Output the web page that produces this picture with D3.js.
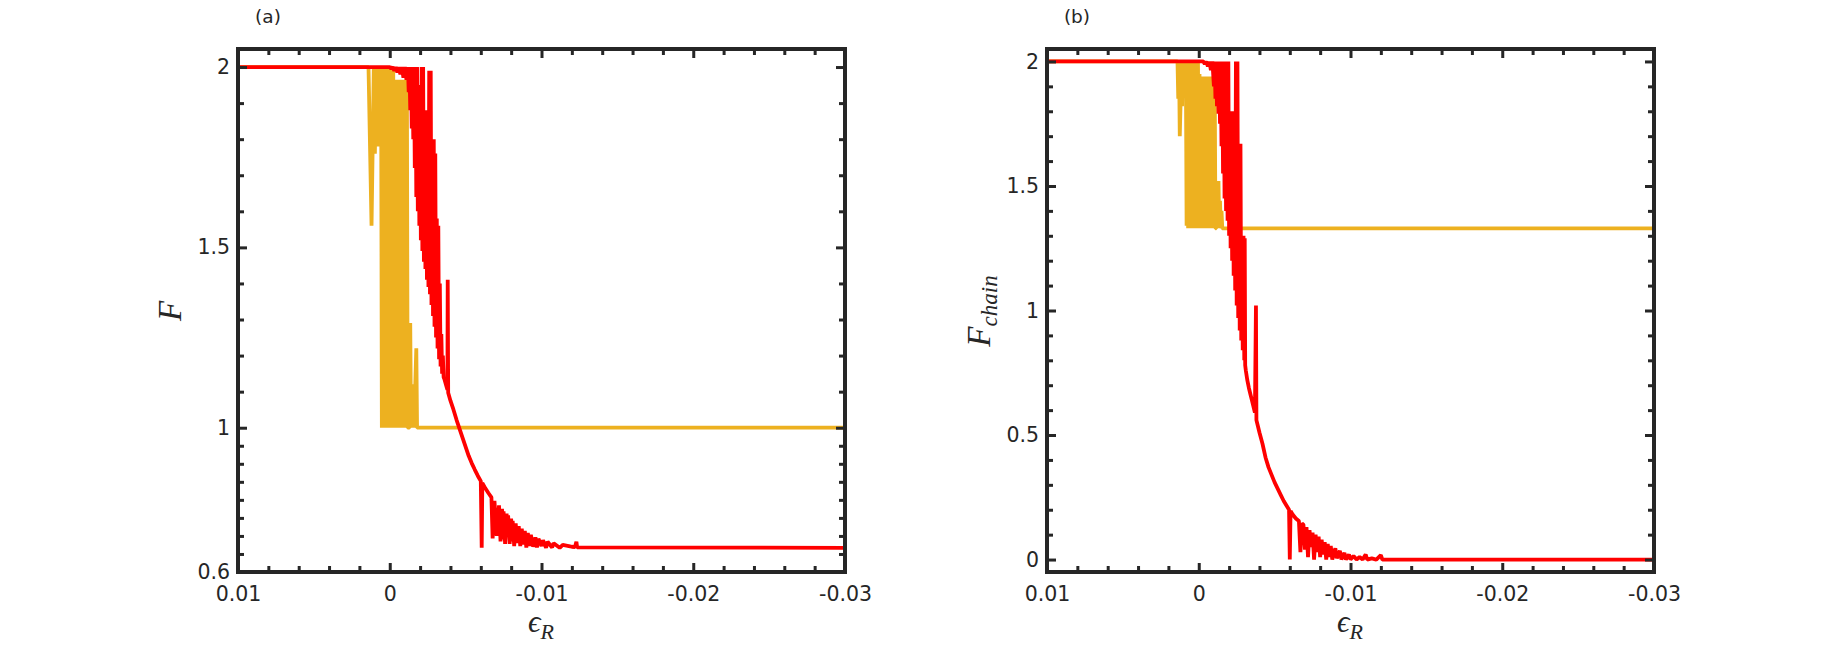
<!DOCTYPE html>
<html>
<head>
<meta charset="utf-8">
<script src="https://cdn.jsdelivr.net/npm/d3@7"></script>
<style>
  body { margin: 0; background: #fff; }
  svg text { fill: #262626; }
</style>
</head>
<body>
<div id="chart"></div>
<script>
// x ticks shared by both panels
const xMajor = [0.01, 0, -0.01, -0.02, -0.03];
const xMajorLabels = ["0.01", "0", "-0.01", "-0.02", "-0.03"];
const xMinor = [0.008, 0.006, 0.004, 0.002, -0.002, -0.004, -0.006, -0.008,
  -0.012, -0.014, -0.016, -0.018, -0.022, -0.024, -0.026, -0.028];

// panel (a) ticks
const yMajorA = [0.6, 1, 1.5, 2];
const yMajorLabelsA = ["0.6", "1", "1.5", "2"];
const yMinorA = [0.65, 0.7, 0.75, 0.8, 0.85, 0.9, 0.95, 1.1, 1.2, 1.3, 1.4, 1.6, 1.7, 1.8, 1.9];

// panel (b) ticks
const yMajorB = [0, 0.5, 1, 1.5, 2];
const yMajorLabelsB = ["0", "0.5", "1", "1.5", "2"];
const yMinorB = [0.1, 0.2, 0.3, 0.4, 0.6, 0.7, 0.8, 0.9, 1.1, 1.2, 1.3, 1.4, 1.6, 1.7, 1.8, 1.9];

// panel (a), yellow series [eps_R, F]
const yellowA = [
  [0.01, 2], [0.0014, 2], [0.0012, 1.56], [0.00105, 2], [0.00098, 1.76], [0.0009, 2],
  [0.0008, 1.78], [0.0007, 2], [0.00062, 1.915], [0.00057, 2], [0.00052, 1.0], [0.00047, 2],
  [0.00042, 1.0], [0.00037, 2], [0.00032, 1.0], [0.00027, 2], [0.00022, 1.0], [0.00017, 2],
  [0.00012, 1.0], [0.00007, 2], [0.00002, 1.0], [-0.00003, 2], [-0.00008, 1.0], [-0.00013, 2],
  [-0.00018, 1.0], [-0.00023, 1.99], [-0.00028, 1.0], [-0.00033, 1.91], [-0.00038, 1.0],
  [-0.00043, 1.965], [-0.00048, 1.0], [-0.00053, 1.965], [-0.00058, 1.0], [-0.00063, 1.965],
  [-0.00068, 1.0], [-0.00073, 1.965], [-0.00078, 1.0], [-0.00083, 1.965], [-0.00088, 1.0],
  [-0.00093, 1.965], [-0.00098, 1.0], [-0.00103, 1.965], [-0.00108, 1.0], [-0.00113, 1.965],
  [-0.00118, 1.0], [-0.0013, 1.0], [-0.00135, 1.29], [-0.0014, 1.0], [-0.0015, 1.12],
  [-0.0016, 1.0], [-0.00175, 1.22], [-0.0018, 1.0], [-0.0019, 1.0], [-0.03, 1.0]
];

// panel (a), red series
const redA = [
  [0.01, 2], [0, 2], [-0.0001, 1.995], [-0.0002, 2], [-0.0003, 1.99], [-0.0004, 2],
  [-0.0005, 1.985], [-0.0006, 2], [-0.0007, 1.98], [-0.0008, 2], [-0.0009, 1.97], [-0.001, 2],
  [-0.0011, 1.965], [-0.0012, 2], [-0.00125, 1.93], [-0.0013, 2], [-0.00135, 1.88], [-0.0014, 2],
  [-0.00145, 1.83], [-0.0015, 2], [-0.00155, 1.8], [-0.0016, 2], [-0.00165, 1.72], [-0.0017, 2],
  [-0.00175, 1.64], [-0.0018, 2], [-0.00185, 1.6], [-0.0019, 1.95], [-0.00195, 1.56], [-0.002, 1.9],
  [-0.00205, 1.52], [-0.0021, 2], [-0.00215, 1.49], [-0.0022, 2], [-0.00225, 1.46], [-0.0023, 1.88],
  [-0.00235, 1.44], [-0.0024, 1.88], [-0.00245, 1.41], [-0.0025, 1.86], [-0.00255, 1.39],
  [-0.0026, 1.99], [-0.00265, 1.37], [-0.0027, 1.99], [-0.00275, 1.34], [-0.0028, 1.8],
  [-0.00285, 1.31], [-0.0029, 1.8], [-0.00295, 1.28], [-0.003, 1.76], [-0.00305, 1.25],
  [-0.0031, 1.58], [-0.00315, 1.22], [-0.0032, 1.56], [-0.00325, 1.19], [-0.0033, 1.4],
  [-0.00335, 1.17], [-0.0034, 1.26], [-0.00345, 1.15], [-0.0035, 1.2], [-0.00355, 1.14],
  [-0.0036, 1.135], [-0.0037, 1.12], [-0.0038, 1.105], [-0.00382, 1.41], [-0.00385, 1.097],
  [-0.004, 1.075], [-0.0042, 1.05], [-0.0044, 1.022], [-0.0046, 0.997], [-0.0048, 0.972],
  [-0.005, 0.947], [-0.0052, 0.922], [-0.0054, 0.902], [-0.0056, 0.884], [-0.0058, 0.867],
  [-0.006, 0.852], [-0.00606, 0.667], [-0.0061, 0.847], [-0.0063, 0.832], [-0.0065, 0.819],
  [-0.0067, 0.807], [-0.00678, 0.693], [-0.0069, 0.797], [-0.00705, 0.7], [-0.0072, 0.785],
  [-0.0073, 0.685], [-0.0074, 0.775], [-0.00745, 0.69], [-0.0075, 0.768], [-0.0076, 0.678],
  [-0.0077, 0.762], [-0.00775, 0.7], [-0.0078, 0.757], [-0.0079, 0.678], [-0.008, 0.748],
  [-0.00805, 0.685], [-0.0081, 0.742], [-0.0082, 0.672], [-0.0083, 0.735], [-0.0084, 0.68],
  [-0.0085, 0.727], [-0.0086, 0.672], [-0.0087, 0.72], [-0.0088, 0.676], [-0.0089, 0.714],
  [-0.009, 0.668], [-0.0091, 0.708], [-0.0092, 0.672], [-0.0093, 0.703], [-0.00945, 0.67],
  [-0.0096, 0.696], [-0.0097, 0.668], [-0.0098, 0.692], [-0.01, 0.672], [-0.0101, 0.688],
  [-0.0103, 0.667], [-0.0104, 0.684], [-0.0107, 0.668], [-0.0108, 0.68], [-0.0112, 0.667],
  [-0.0114, 0.675], [-0.0118, 0.672], [-0.012, 0.67], [-0.0122, 0.669], [-0.0123, 0.684],
  [-0.01235, 0.668], [-0.03, 0.667]
];

// panel (b), yellow series [eps_R, F_chain]
const yellowB = [
  [0.01, 2], [0.0014, 2], [0.00135, 1.85], [0.0013, 2], [0.00125, 1.7], [0.0012, 1.83],
  [0.00115, 2], [0.0011, 1.82], [0.00105, 2], [0.001, 1.87], [0.00095, 2], [0.0009, 1.86],
  [0.00085, 2], [0.0008, 1.34], [0.00075, 2], [0.0007, 1.33], [0.00065, 2], [0.0006, 1.33],
  [0.00055, 2], [0.0005, 1.33], [0.00045, 2], [0.0004, 1.34], [0.00035, 2], [0.0003, 1.33],
  [0.00025, 2], [0.0002, 1.33], [0.00015, 2], [0.0001, 1.34], [0.00005, 2], [0, 1.33],
  [-0.00005, 1.95], [-0.0001, 1.33], [-0.00015, 1.94], [-0.0002, 1.34], [-0.00025, 1.94],
  [-0.0003, 1.33], [-0.00035, 1.94], [-0.0004, 1.33], [-0.00045, 1.94], [-0.0005, 1.34],
  [-0.00055, 1.94], [-0.0006, 1.33], [-0.00065, 1.94], [-0.0007, 1.33], [-0.00075, 1.94],
  [-0.0008, 1.34], [-0.00085, 1.94], [-0.0009, 1.33], [-0.00095, 1.94], [-0.001, 1.33],
  [-0.00105, 1.94], [-0.0011, 1.33], [-0.00115, 1.33], [-0.0012, 1.52], [-0.00125, 1.33],
  [-0.0013, 1.52], [-0.00135, 1.33], [-0.0014, 1.44], [-0.00145, 1.33], [-0.0015, 1.4],
  [-0.00155, 1.33], [-0.03, 1.33]
];

// panel (b), red series
const redB = [
  [0.01, 2], [-0.0003, 2], [-0.0004, 1.99], [-0.0005, 2], [-0.0006, 1.98], [-0.0007, 2],
  [-0.0008, 1.965], [-0.0009, 2], [-0.001, 1.9], [-0.00105, 2], [-0.0011, 1.85], [-0.00115, 2],
  [-0.0012, 1.82], [-0.00125, 2], [-0.0013, 1.79], [-0.00135, 2], [-0.0014, 1.75], [-0.00145, 2],
  [-0.0015, 1.66], [-0.00155, 2], [-0.0016, 1.55], [-0.00165, 2], [-0.0017, 1.45], [-0.00175, 1.84],
  [-0.0018, 1.4], [-0.00185, 2], [-0.0019, 1.36], [-0.00195, 2], [-0.002, 1.3], [-0.00205, 1.8],
  [-0.0021, 1.25], [-0.00215, 1.8], [-0.0022, 1.2], [-0.00225, 1.8], [-0.0023, 1.14],
  [-0.00235, 1.8], [-0.0024, 1.08], [-0.00245, 2], [-0.0025, 1.02], [-0.00255, 2], [-0.0026, 0.97],
  [-0.00265, 1.67], [-0.0027, 0.92], [-0.00275, 1.67], [-0.0028, 0.88], [-0.00285, 1.3],
  [-0.0029, 0.84], [-0.00295, 1.3], [-0.003, 0.8], [-0.00303, 1.29], [-0.00306, 0.78],
  [-0.0031, 0.76], [-0.0032, 0.72], [-0.0033, 0.69], [-0.0034, 0.665], [-0.0035, 0.64],
  [-0.0036, 0.615], [-0.0037, 0.59], [-0.00377, 1.02], [-0.0038, 0.56], [-0.0039, 0.535],
  [-0.004, 0.51], [-0.0042, 0.465], [-0.0044, 0.41], [-0.0046, 0.37], [-0.0048, 0.34],
  [-0.005, 0.31], [-0.0052, 0.285], [-0.0054, 0.26], [-0.0056, 0.235], [-0.0058, 0.215],
  [-0.00595, 0.2], [-0.006, 0.0], [-0.00605, 0.195], [-0.0062, 0.18], [-0.0064, 0.165],
  [-0.0066, 0.155], [-0.0067, 0.03], [-0.0068, 0.145], [-0.0069, 0.14], [-0.007, 0.04],
  [-0.0071, 0.13], [-0.0072, 0.01], [-0.0073, 0.118], [-0.0074, 0.05], [-0.0075, 0.108],
  [-0.0076, 0.0], [-0.0077, 0.1], [-0.0078, 0.03], [-0.0079, 0.092], [-0.008, 0.01],
  [-0.0081, 0.08], [-0.0082, 0.02], [-0.0083, 0.07], [-0.0084, 0.0], [-0.0085, 0.063],
  [-0.0086, 0.01], [-0.0087, 0.055], [-0.0088, 0.0], [-0.009, 0.045], [-0.0091, 0.005],
  [-0.0093, 0.035], [-0.0094, 0.0], [-0.0096, 0.027], [-0.0097, 0.0], [-0.0099, 0.02],
  [-0.01, 0.0], [-0.0102, 0.014], [-0.0104, 0.0], [-0.0106, 0.01], [-0.0108, 0.0],
  [-0.011, 0.02], [-0.0111, 0.0], [-0.0114, 0.005], [-0.0117, 0.0], [-0.012, 0.018],
  [-0.0121, 0.0], [-0.03, 0.0]
];

const width = 1836, height = 654;
const axisColor = "#262626";
const yellow = "#EDB120", red = "#FF0000";

const svg = d3.select("#chart").append("svg")
  .attr("width", width)
  .attr("height", height);

function drawPanel(opt) {
  const x = d3.scaleLinear().domain([0.01, -0.03]).range([opt.left, opt.left + 607]);
  const y = d3.scaleLinear().domain(opt.yDomain).range([572, 49]);
  const g = svg.append("g");

  const clipId = "clip-" + opt.id;
  g.append("clipPath").attr("id", clipId)
    .append("rect")
    .attr("x", x.range()[0]).attr("y", 49)
    .attr("width", 607).attr("height", 523);

  const line = d3.line().x(d => x(d[0])).y(d => y(d[1]));

  // lines: yellow under red
  g.selectAll("path.series")
    .data([[opt.yellow, yellow], [opt.red, red]])
    .enter()
    .append("path")
    .attr("class", "series")
    .attr("clip-path", `url(#${clipId})`)
    .attr("d", d => line(d[0]))
    .attr("fill", "none")
    .attr("stroke", d => d[1])
    .attr("stroke-width", 3.8)
    .attr("stroke-linejoin", "bevel");

  // ticks on all four sides, pointing inward
  const styleAxis = sel => {
    sel.select(".domain").remove();
    sel.selectAll(".tick line").attr("stroke", axisColor).attr("stroke-width", 3);
    sel.selectAll(".tick text")
      .style("font-family", "'DejaVu Sans', sans-serif")
      .style("font-size", "20.5px")
      .attr("fill", axisColor);
  };
  const fmt = (vals, labels) => v => labels[vals.indexOf(v)];

  g.append("g").attr("transform", "translate(0,572)")
    .call(d3.axisBottom(x).tickValues(xMajor).tickSize(-9).tickPadding(14)
      .tickFormat(fmt(xMajor, xMajorLabels)))
    .call(styleAxis);
  g.append("g").attr("transform", "translate(0,572)")
    .call(d3.axisBottom(x).tickValues(xMinor).tickSize(-6).tickFormat(""))
    .call(styleAxis);
  g.append("g").attr("transform", "translate(0,49)")
    .call(d3.axisTop(x).tickValues(xMajor).tickSize(-9).tickFormat(""))
    .call(styleAxis);
  g.append("g").attr("transform", "translate(0,49)")
    .call(d3.axisTop(x).tickValues(xMinor).tickSize(-6).tickFormat(""))
    .call(styleAxis);

  g.append("g").attr("transform", `translate(${opt.left},0)`)
    .call(d3.axisLeft(y).tickValues(opt.yMajor).tickSize(-9).tickPadding(8)
      .tickFormat(fmt(opt.yMajor, opt.yLabels)))
    .call(styleAxis);
  g.append("g").attr("transform", `translate(${opt.left},0)`)
    .call(d3.axisLeft(y).tickValues(opt.yMinor).tickSize(-6).tickFormat(""))
    .call(styleAxis);
  g.append("g").attr("transform", `translate(${opt.left + 607},0)`)
    .call(d3.axisRight(y).tickValues(opt.yMajor).tickSize(-9).tickFormat(""))
    .call(styleAxis);
  g.append("g").attr("transform", `translate(${opt.left + 607},0)`)
    .call(d3.axisRight(y).tickValues(opt.yMinor).tickSize(-6).tickFormat(""))
    .call(styleAxis);

  // box
  g.append("rect")
    .attr("x", opt.left).attr("y", 49)
    .attr("width", 607).attr("height", 523)
    .attr("fill", "none")
    .attr("stroke", axisColor)
    .attr("stroke-width", 4);

  // panel letter
  g.append("text")
    .attr("x", opt.left + 30).attr("y", 23)
    .attr("text-anchor", "middle")
    .style("font-family", "'DejaVu Sans', sans-serif")
    .style("font-size", "18.5px")
    .text(opt.name);

  // x label
  const xl = g.append("text")
    .attr("x", opt.left + 303).attr("y", 632)
    .attr("text-anchor", "middle")
    .style("font-family", "'Liberation Serif', 'DejaVu Serif', serif")
    .style("font-style", "italic")
    .style("font-size", "31px");
  xl.append("tspan").text("ϵ");
  xl.append("tspan").attr("dy", 7).style("font-size", "22px").text("R");

  // y label
  const yl = g.append("text")
    .attr("transform", `translate(${opt.labelX},311) rotate(-90)`)
    .attr("text-anchor", "middle")
    .style("font-family", "'Liberation Serif', 'DejaVu Serif', serif")
    .style("font-style", "italic")
    .style("font-size", "33px");
  yl.append("tspan").text("F");
  if (opt.sub) yl.append("tspan").attr("dy", 7).style("font-size", "23px").text(opt.sub);
}

drawPanel({
  id: "a", name: "(a)", left: 238, yDomain: [0.6, 2.05],
  yMajor: yMajorA, yLabels: yMajorLabelsA, yMinor: yMinorA,
  yellow: yellowA, red: redA, labelX: 181, sub: null
});

drawPanel({
  id: "b", name: "(b)", left: 1047, yDomain: [-0.05, 2.05],
  yMajor: yMajorB, yLabels: yMajorLabelsB, yMinor: yMinorB,
  yellow: yellowB, red: redB, labelX: 990, sub: "chain"
});
</script>
</body>
</html>
